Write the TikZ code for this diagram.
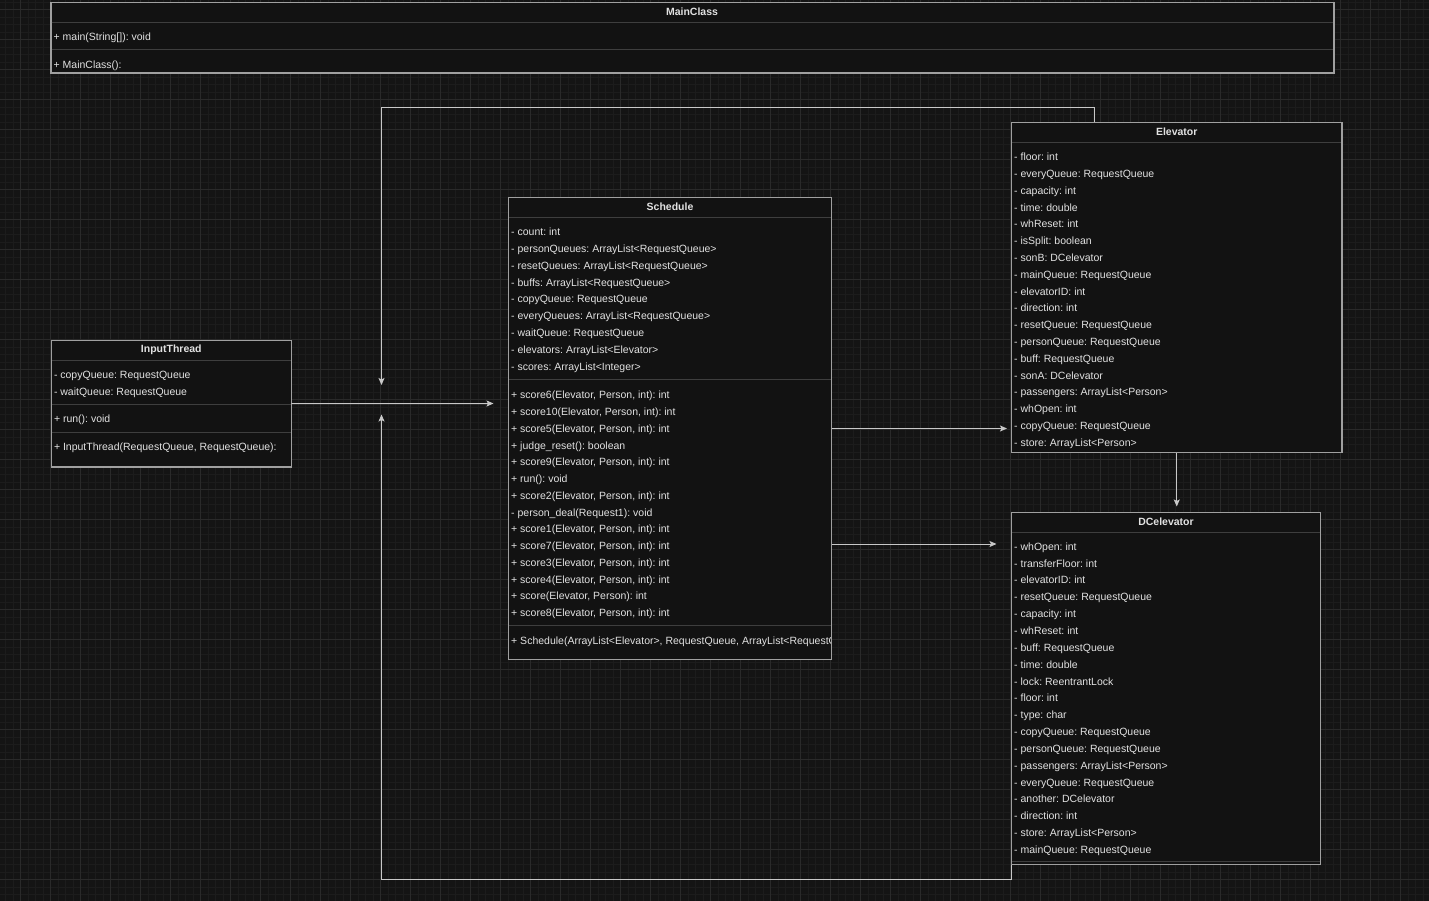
\documentclass[tikz,border=0pt]{standalone}
\usepackage{fontspec}
\setmainfont{Liberation Sans}
\usetikzlibrary{arrows.meta,calc}
\definecolor{bgc}{HTML}{141414}
\definecolor{gminc}{HTML}{1C1C1C}
\definecolor{gmajc}{HTML}{2A2A2A}
\definecolor{boxc}{HTML}{121212}
\definecolor{bordc}{HTML}{A0A0A0}
\definecolor{divc}{HTML}{3E3E3E}
\definecolor{txtc}{HTML}{E2E2E2}
\definecolor{linec}{HTML}{C8C8C8}
\newcommand{\fsz}{\fontsize{10.5}{12}\selectfont\frenchspacing}
\begin{document}
\begin{tikzpicture}[x=1pt,y=-1pt,
  cls/.style={draw=bordc, fill=boxc, line width=1.2pt, anchor=north west, inner sep=0pt, outer sep=0pt},
  ttl/.style={anchor=base, font=\bfseries\fsz, text=txtc, inner sep=0pt},
  itm/.style={anchor=base west, font=\fsz, text=txtc, inner sep=0pt},
  dv/.style={draw=divc, line width=1pt},
  conn/.style={draw=linec, line width=1pt, -{Stealth[length=7pt,width=6pt,inset=1.5pt]}},
  gmin/.style={draw=gminc, line width=0.6pt},
  gmaj/.style={draw=gmajc, line width=0.8pt}]
\useasboundingbox (0,0) rectangle (1429,901);
\fill[bgc] (0,0) rectangle (1429,901);
% grid
\foreach \i in {0,...,191} { \draw[gmin] ({-9.5+7.5*\i},0) -- ({-9.5+7.5*\i},901); }
\foreach \i in {0,...,120} { \draw[gmin] (0,{2+7.5*\i}) -- (1429,{2+7.5*\i}); }
\foreach \k in {0,...,48} { \draw[gmaj] ({-9.5+30*\k},0) -- ({-9.5+30*\k},901); }
\foreach \k in {0,...,30} { \draw[gmaj] (0,{9.5+30*\k}) -- (1429,{9.5+30*\k}); }

% ---------- MainClass
\node[cls, minimum width=1283pt, minimum height=70.5pt] (main) at (51,2.5) {};
\draw[dv] (51.6,22.3) -- (1333.4,22.3);
\draw[dv] (51.6,50) -- (1333.4,50);
\node[ttl] (mainT) at (692,15.6) {MainClass};
\node[itm] (mainM1) at (53.5,40.6) {+ main(String[]): void};
\node[itm] (mainC1) at (53.5,68.2) {+ MainClass():};

% ---------- Elevator
\node[cls, minimum width=330.5pt, minimum height=330pt] (elev) at (1011.5,122.5) {};
\draw[dv] (1012.1,142.3) -- (1341.4,142.3);
\node[ttl] (elevT) at (1176.75,135.6) {Elevator};
\foreach \t [count=\i from 0] in {{- floor: int},{- everyQueue: RequestQueue},{- capacity: int},{- time: double},{- whReset: int},{- isSplit: boolean},{- sonB: DCelevator},{- mainQueue: RequestQueue},{- elevatorID: int},{- direction: int},{- resetQueue: RequestQueue},{- personQueue: RequestQueue},{- buff: RequestQueue},{- sonA: DCelevator},{- passengers: ArrayList<Person>},{- whOpen: int},{- copyQueue: RequestQueue},{- store: ArrayList<Person>}}
  { \node[itm] (elevA\i) at (1014,{160.7+16.8*\i}) {\t}; }

% ---------- DCelevator
\node[cls, minimum width=309pt, minimum height=352pt] (dce) at (1011.5,512.5) {};
\draw[dv] (1012.1,532.7) -- (1319.9,532.7);
\draw[dv] (1012.1,861.3) -- (1319.9,861.3);
\node[ttl] (dceT) at (1166,525.6) {DCelevator};
\foreach \t [count=\i from 0] in {{- whOpen: int},{- transferFloor: int},{- elevatorID: int},{- resetQueue: RequestQueue},{- capacity: int},{- whReset: int},{- buff: RequestQueue},{- time: double},{- lock: ReentrantLock},{- floor: int},{- type: char},{- copyQueue: RequestQueue},{- personQueue: RequestQueue},{- passengers: ArrayList<Person>},{- everyQueue: RequestQueue},{- another: DCelevator},{- direction: int},{- store: ArrayList<Person>},{- mainQueue: RequestQueue}}
  { \node[itm] (dceA\i) at (1014,{550.2+16.85*\i}) {\t}; }

% ---------- Schedule
\node[cls, minimum width=323pt, minimum height=462pt] (sched) at (508.5,197.5) {};
\draw[dv] (509.1,217.3) -- (830.9,217.3);
\draw[dv] (509.1,379.3) -- (830.9,379.3);
\draw[dv] (509.1,625.7) -- (830.9,625.7);
\node[ttl] (schedT) at (670,210.6) {Schedule};
\foreach \t [count=\i from 0] in {{- count: int},{- personQueues: ArrayList<RequestQueue>},{- resetQueues: ArrayList<RequestQueue>},{- buffs: ArrayList<RequestQueue>},{- copyQueue: RequestQueue},{- everyQueues: ArrayList<RequestQueue>},{- waitQueue: RequestQueue},{- elevators: ArrayList<Elevator>},{- scores: ArrayList<Integer>}}
  { \node[itm] (schedA\i) at (511,{235.7+16.8*\i}) {\t}; }
\foreach \t [count=\i from 0] in {{+ score6(Elevator, Person, int): int},{+ score10(Elevator, Person, int): int},{+ score5(Elevator, Person, int): int},{+ judge\_reset(): boolean},{+ score9(Elevator, Person, int): int},{+ run(): void},{+ score2(Elevator, Person, int): int},{- person\_deal(Request1): void},{+ score1(Elevator, Person, int): int},{+ score7(Elevator, Person, int): int},{+ score3(Elevator, Person, int): int},{+ score4(Elevator, Person, int): int},{+ score(Elevator, Person): int},{+ score8(Elevator, Person, int): int}}
  { \node[itm] (schedM\i) at (511,{398.9+16.75*\i}) {\t}; }
\begin{scope}
  \clip (509,626) rectangle (830.6,659);
  \node[itm] (schedC) at (511,644.6) {+ Schedule(ArrayList<Elevator>, RequestQueue, ArrayList<RequestQueue>)};
\end{scope}

% ---------- InputThread
\node[cls, minimum width=240pt, minimum height=126.7pt] (input) at (51.3,340.3) {};
\draw[dv] (51.9,360.3) -- (290.7,360.3);
\draw[dv] (51.9,404.7) -- (290.7,404.7);
\draw[dv] (51.9,432.3) -- (290.7,432.3);
\node[ttl] (inputT) at (171.3,352.3) {InputThread};
\node[itm] (inputA0) at (53.8,378) {- copyQueue: RequestQueue};
\node[itm] (inputA1) at (53.8,395) {- waitQueue: RequestQueue};
\node[itm] (inputM0) at (53.8,422.3) {+ run(): void};
\node[itm] (inputC0) at (53.8,450.6) {+ InputThread(RequestQueue, RequestQueue):};

% ---------- connectors
\coordinate (e1) at (493.5,403.5);
\coordinate (e2) at (1007,428.5);
\coordinate (e3) at (996.5,544);
\coordinate (e4) at (1176.75,506.5);
\coordinate (e5) at (381.5,385);
\coordinate (e6) at (381.5,414.5);
\coordinate (s3) at (831.5,544);
\coordinate (s5) at (1094,122.5);

\draw[conn] (input.east) -- (e1);
\draw[conn] (sched.east) -- (e2);
\draw[conn] (s3) -- (e3);
\draw[conn] (elev.south) -- (e4);
\draw[conn] (s5) -- (1094,107.5) -- (381.5,107.5) -- (e5);
\draw[conn] (dce.south west) -- (1011.5,879.5) -- (381.5,879.5) -- (e6);
\end{tikzpicture}
\end{document}
